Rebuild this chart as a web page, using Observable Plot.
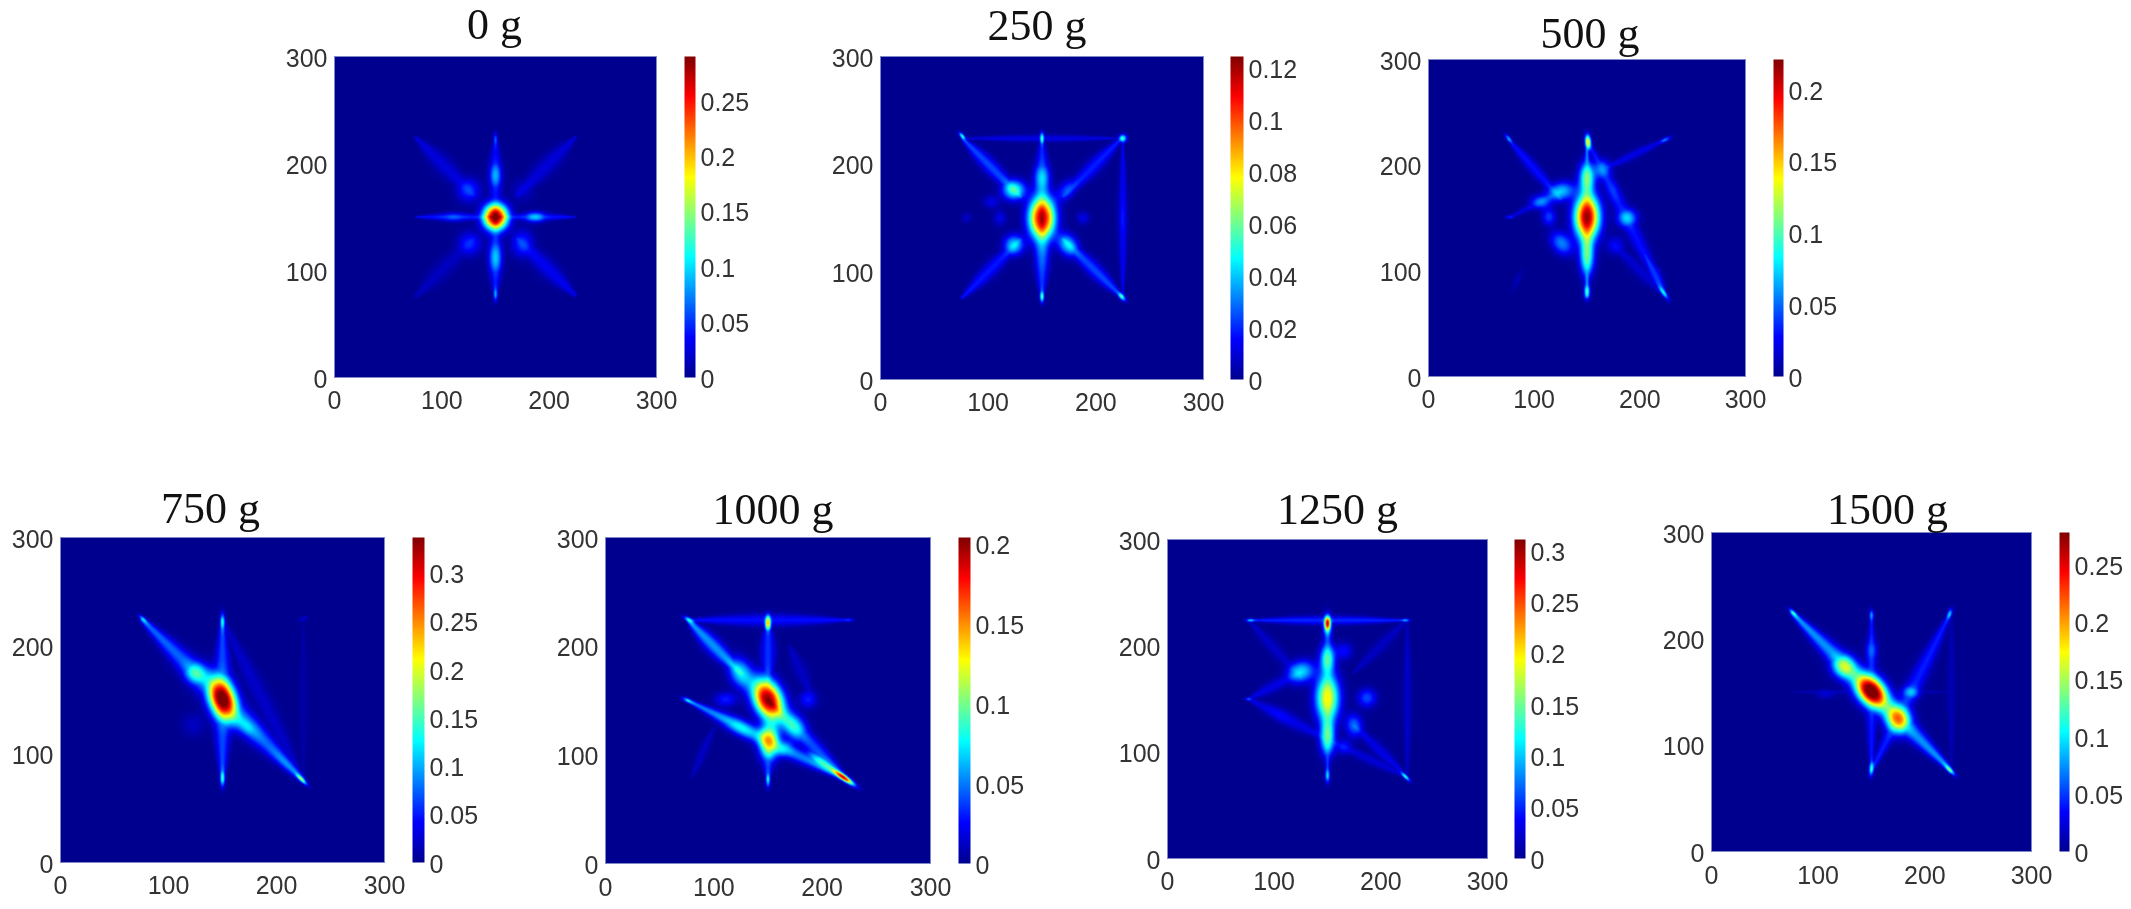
<!DOCTYPE html>
<html>
<head>
<meta charset="utf-8">
<script src="https://cdn.jsdelivr.net/npm/d3@7"></script>
<script src="https://cdn.jsdelivr.net/npm/@observablehq/plot@0.6"></script>
<style>
html,body{margin:0;padding:0;background:#fff;width:2131px;height:909px;overflow:hidden}
#root{position:relative;width:2131px;height:909px;filter:blur(0.45px)}
#root svg{position:absolute;overflow:visible;background:transparent}
</style>
</head>
<body>
<div id="root"></div>
<script>
// Features. The smooth falloff around them is a reconstruction.
// spot: [x, y, peak value, major sigma, minor sigma, major-axis angle in degrees]
// ray:  [x1, y1, x2, y2, value, width sigma]
const titles = ["0 g","250 g","500 g","750 g","1000 g","1250 g","1500 g"];
const axisTicks = [0,100,200,300];
const maxima = [0.29,0.1245,0.221,0.337,0.204,0.311,0.278];
const barTicks = [
  [0,0.05,0.1,0.15,0.2,0.25],
  [0,0.02,0.04,0.06,0.08,0.1,0.12],
  [0,0.05,0.1,0.15,0.2],
  [0,0.05,0.1,0.15,0.2,0.25,0.3],
  [0,0.05,0.1,0.15,0.2],
  [0,0.05,0.1,0.15,0.2,0.25,0.3],
  [0,0.05,0.1,0.15,0.2,0.25]
];

const spots0 = [
  [150,150,0.29,8.5,8,90],[150,189,0.075,9,3.8,90],[150,112,0.08,11,4.2,90],[150,222,0.05,5,1.4,90],[150,78,0.07,5,1.4,90],
  [111,150,0.05,9,2.8,0],[187,150,0.08,7,3.4,0],[125,175,0.05,7.5,7.5,0],[126,125,0.045,7.5,7.5,0],[175,125,0.05,8.5,7,90],[175,175,0.018,7,7,0]
];
const rays0 = [
  [150,150,150,224,0.035,4.5],[150,150,150,76,0.04,4.5],[150,150,76,150,0.04,2.4],[150,150,224,150,0.04,2.4],
  [130,170,76,224,0.025,5.5],[130,130,76,76,0.016,5.5],[170,130,224,77,0.032,5.5],[170,170,224,224,0.024,5.5]
];

const spots250 = [
  [150,150,0.115,14,8.5,90],[150,188,0.035,9,5,90],[150,115,0.02,10,4.5,90],[150,224,0.05,4,1.4,90],[150,77,0.05,4,1.4,90],
  [76,226,0.05,3,1.2,130],[124,176,0.05,7.5,6.5,0],[174,125,0.04,8,6,125],[124,125,0.04,6.5,6.5,0],[225,224,0.05,2.5,2.5,0],[224,77,0.05,3.5,1.6,130],
  [173,176,0.022,8,5,50],[103,165,0.012,5,4,0],[80,150,0.008,3,3,0],[188,150,0.012,4,4,0],[111,150,0.012,5,4,90],[225,150,0.012,10,2,90]
];
const rays250 = [
  [150,150,150,224,0.02,4.5],[150,150,150,76,0.022,4.5],[130,170,76,224,0.024,4.5],[170,130,224,77,0.024,4.5],[130,130,76,76,0.018,4.5],[170,170,224,224,0.019,4.5],
  [225,224,225,77,0.014,2.8],[76,224,224,224,0.012,2.2]
];

const spots500 = [
  [150,151,0.2,15,8.5,90],[151,222,0.13,5,2,95],[150,189,0.09,10,5.5,90],[150,113,0.085,12.5,5,90],[150,80,0.08,5,2,90],
  [165,196,0.05,6.5,5.5,90],[188,150,0.065,6.5,6,0],[175,176,0.03,8,4,110],[177,124,0.025,6,6,0],[125,175,0.07,9,6,15],[106,165,0.05,6.5,4.5,0],
  [114,151,0.04,5.5,4.5,90],[126,126,0.055,8.5,6,130],[76,225,0.06,3.5,1.3,130],[77,151,0.03,3,1.2,0],[222,80,0.07,6,1.6,125],[224,224,0.05,4,1.4,25],[84,91,0.01,7,2,65]
];
const rays500 = [
  [150,224,150,76,0.05,3.5],[150,224,224,77,0.03,5],[205,115,224,77,0.04,3.6],[76,224,125,168,0.03,3.6],[76,150,125,175,0.02,2.4],[224,224,165,196,0.022,2.8],[175,125,224,77,0.016,4.4]
];

const spots750 = [
  [150,151,0.337,15,8.5,108],[125,175,0.125,8,7,135],[174,125,0.09,10,5.5,135],[223,77,0.15,5,1.3,135],[208,91,0.05,12,3.2,135],[77,224,0.1,4,1.3,135],
  [150,222,0.11,6,1.6,90],[150,78,0.12,6,1.6,90],[225,225,0.025,3,1.4,20],[123,127,0.02,7,7,0]
];
const rays750 = [
  [76,224,224,77,0.075,8],[150,224,150,76,0.065,6],[150,224,224,77,0.022,5.5],[225,224,225,77,0.01,2.2]
];

const spots1000 = [
  [150,151,0.2,14,9,115],[77.5,224,0.07,4,1.5,150],[150,221.5,0.13,5,2,90],[124.6,175.4,0.07,10,7,115],[111,151,0.03,7,4.5,0],[187,151,0.03,5.5,5.5,0],
  [125,125,0.06,15,5,153],[151,112,0.125,11,6.5,90],[166,105,0.05,5.5,5,0],[174,126,0.07,10,7,125],[220,79,0.16,8,1.8,145],[201,92,0.08,12,3.2,145],
  [76,150,0.06,4,1.4,155],[150,77,0.065,5,1.5,90],[225,224,0.03,3,1.2,0]
];
const rays1000 = [
  [76,224,224,224,0.028,3.8],[150,224,150,165,0.035,4.5],[76,224,125,175,0.055,5],[76,150,223,77,0.05,5],[150,150,223,77,0.04,5],[150,112,150,76,0.035,3.5],[80,80,100,125,0.012,3],[170,200,190,155,0.012,4.5]
];

const spots1250 = [
  [150,151,0.18,16,8,90],[150,221.5,0.19,4.5,2,90],[150,218,0.09,8,3,90],[78,224,0.09,3,1.1,0],[223,224,0.08,3,1.1,0],[150,188.6,0.12,9.5,5,90],[150,113.5,0.125,11.5,5,90],
  [150,78,0.09,5,1.6,90],[125,175.5,0.105,9,7,20],[165.5,195,0.04,5.5,5.5,0],[187,151,0.06,6,6,0],[175,125,0.07,7.5,5.5,100],[165.5,105,0.04,5,5,0],[76,150,0.06,2.5,1,0],[223,77,0.12,4,1.2,135],[106,135,0.03,8,4,150]
];
const rays1250 = [
  [76,224,224,224,0.05,2.8],[150,224,150,76,0.05,3.5],[76,224,125,170,0.02,3.8],[76,150,125,175,0.03,3.8],[76,150,150,112,0.03,4.5],[150,112,224,77,0.025,3.2],[225,224,225,77,0.02,2.8],[224,224,175,175,0.018,3.8],[175,125,224,77,0.03,3.8]
];

const spots1500 = [
  [150,150.6,0.278,13,8.5,130],[124.4,174,0.135,8.5,7.5,135],[175,124.7,0.19,9.5,8,100],[77,224,0.1,4,1.3,135],[223,77,0.12,5,1.4,135],
  [150,222,0.065,4,1.5,90],[150,78,0.1,5,1.6,85],[150,189,0.05,8,3.8,90],[223,223,0.08,4,1.5,70],[187,150,0.075,5.5,4.5,0],[107,148,0.02,6,3,0]
];
const rays1500 = [
  [76,224,224,77,0.075,7.2],[150,224,150,76,0.04,3.8],[224,224,150,76,0.042,5.4],[76,150,224,150,0.012,1.8],[225,224,225,77,0.012,2.6]
];

// Layout: frame position in page pixels, title offsets, colour bar position
const layout = [
  {l:334, r:656, t:56, b:377, bl:684, br:695, td:-18, tx:-1,  pad:14, spots:spots0,    rays:rays0},
  {l:880, r:1203,t:56, b:379, bl:1230,br:1243,td:-17, tx:-5,  pad:14, spots:spots250,  rays:rays250},
  {l:1428,r:1745,t:59, b:376, bl:1773,br:1783,td:-12, tx:3,   pad:14, spots:spots500,  rays:rays500},
  {l:60,  r:384, t:537,b:862, bl:412, br:424, td:-15, tx:-12, pad:14, spots:spots750,  rays:rays750},
  {l:605, r:930, t:537,b:863, bl:958, br:970, td:-14, tx:5,   pad:15, spots:spots1000, rays:rays1000},
  {l:1167,r:1487,t:539,b:858, bl:1514,br:1525,td:-16, tx:10,  pad:14, spots:spots1250, rays:rays1250},
  {l:1711,r:2031,t:532,b:851, bl:2059,br:2069,td:-9,  tx:16,  pad:15, spots:spots1500, rays:rays1500}
];

const jetStops = [0,0.125,0.375,0.625,0.875,1];
const jetColors = ["#00008f","#0000ff","#00ffff","#ffff00","#ff0000","#800000"];
const jet = max => ({type:"linear", domain:jetStops.map(s=>s*max), range:jetColors, clamp:true});

// Spots add up; streaks sit underneath them as a union
function field(spots, rays){
  const sp = spots.map(([x,y,p,a,b,deg])=>{const r=deg*Math.PI/180; return {x,y,p,a,b,c:Math.cos(r),s:Math.sin(r)};});
  return (px,py)=>{
    let v=0;
    for(const o of sp){
      const dx=px-o.x, dy=py-o.y, u=dx*o.c+dy*o.s, w=-dx*o.s+dy*o.c;
      v+=o.p*Math.exp(-Math.pow(u*u/(2*o.a*o.a)+w*w/(2*o.b*o.b),1.12));
    }
    let m=0;
    for(const [x1,y1,x2,y2,val,wid] of rays){
      const ax=x2-x1, ay=y2-y1, t=Math.max(0,Math.min(1,((px-x1)*ax+(py-y1)*ay)/(ax*ax+ay*ay)));
      const dx=px-(x1+t*ax), dy=py-(y1+t*ay), sg=wid*(0.22+0.78*Math.sin(Math.PI*t));
      m=Math.max(m,val*Math.exp(-(dx*dx+dy*dy)/(2*sg*sg)));
    }
    return Math.max(v,m)+Math.min(v,m)*0.35;
  };
}

const root = document.getElementById("root");
const mL=55, mR=30, mT=50, mB=45;
const baseStyle = {fontFamily:"'Liberation Sans',Arial,sans-serif", fontSize:"25px", color:"#333", background:"transparent", overflow:"visible"};

layout.forEach((p,i)=>{
  const max = maxima[i];
  const heat = Plot.plot({
    width:(p.r-p.l)+mL+mR, height:(p.b-p.t)+mT+mB,
    marginLeft:mL, marginRight:mR, marginTop:mT, marginBottom:mB,
    style:baseStyle,
    x:{domain:[0,300]}, y:{domain:[0,300]},
    color:jet(max),
    marks:[
      Plot.raster({x1:0,x2:300,y1:0,y2:300,fill:field(p.spots,p.rays)}),
      Plot.frame({stroke:"#7f88c4",strokeWidth:1}),
      Plot.axisX({ticks:axisTicks,tickSize:0,tickPadding:p.pad,label:null,tickFormat:d=>String(d)}),
      Plot.axisY({ticks:axisTicks,tickSize:0,tickPadding:7,dy:2,label:null,tickFormat:d=>String(d)}),
      Plot.text([titles[i]],{text:d=>d,frameAnchor:"top",lineAnchor:"bottom",dy:p.td,dx:p.tx,
        fontFamily:"'Liberation Serif','Times New Roman',serif",fontSize:44,fill:"#111"})
    ]
  });
  heat.style.left=(p.l-mL)+"px"; heat.style.top=(p.t-mT)+"px";
  root.appendChild(heat);

  const bar = Plot.plot({
    width:(p.br-p.bl)+70, height:(p.b-p.t)+20,
    marginLeft:0, marginRight:70, marginTop:10, marginBottom:10,
    style:baseStyle,
    x:{domain:[0,1],axis:null}, y:{domain:[0,max]},
    color:jet(max),
    marks:[
      Plot.raster({x1:0,x2:1,y1:0,y2:max,fill:(x,y)=>y}),
      Plot.axisY({anchor:"right",ticks:barTicks[i],tickSize:0,tickPadding:5,dy:2,label:null,tickFormat:d=>String(d)})
    ]
  });
  bar.style.left=p.bl+"px"; bar.style.top=(p.t-10)+"px";
  root.appendChild(bar);
});
</script>
</body>
</html>
